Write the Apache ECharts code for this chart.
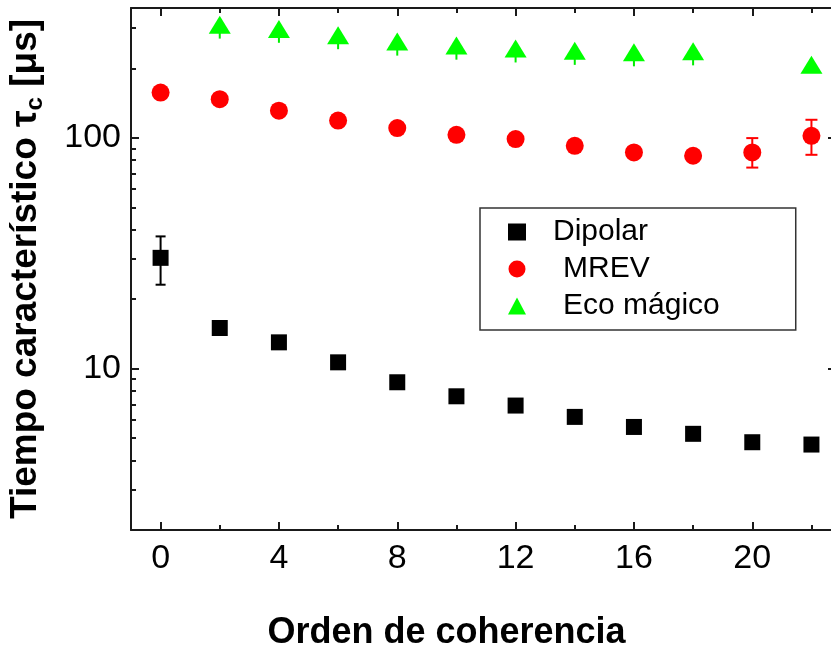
<!DOCTYPE html>
<html>
<head>
<meta charset="utf-8">
<script src="https://cdn.jsdelivr.net/npm/echarts@6/dist/echarts.min.js"></script>
<style>
  html, body { margin: 0; padding: 0; background: #fff; }
  #chart { width: 831px; height: 655px; }
</style>
</head>
<body>
<div id="chart"></div>
<script>
// Coherence orders (x axis)
const orders = [0, 2, 4, 6, 8, 10, 12, 14, 16, 18, 20, 22];

// Characteristic time tau_c [µs] for each sequence
const dipolar = [30.2, 15.0, 13.0, 10.65, 8.73, 7.59, 6.92, 6.18, 5.59, 5.22, 4.80, 4.69];
const dipolarErrLow  = [23.1, null, null, null, null, null, null, null, null, null, null, null];
const dipolarErrHigh = [37.4, null, null, null, null, null, null, null, null, null, null, null];

const mrev = [157, 147, 131, 118.8, 110.2, 103, 98.7, 92.3, 86.4, 83.6, 86.4, 102];
const mrevErrLow  = [null, null, null, null, null, null, null, null, null, null, 74.3, 84.4];
const mrevErrHigh = [null, null, null, null, null, null, null, null, null, null, 99.7, 119.7];

const ecoMagico = [null, 309, 296, 278, 261, 251, 243.5, 238.5, 234.5, 237, null, 207];
const ecoErrLow  = [null, 269, 258, 242, 227, 218, 212, 207, 204, 206, null, null];
const ecoErrHigh = [null, 309, 296, 278, 261, 251, 243.5, 238.5, 234.5, 237, null, null];

// Tick positions
const xMajorTicks = [0, 4, 8, 12, 16, 20];
const xMinorTicks = [2, 6, 10, 14, 18, 22];
const yMajorTicks = [10, 100];
const yMinorTicks = [2, 3, 4, 5, 6, 7, 8, 9, 20, 30, 40, 50, 60, 70, 80, 90, 200, 300];

const FONT = '"Liberation Sans", Arial, Helvetica, sans-serif';
const AXIS_COLOR = '#1a1a1a';

function pairs(xs, ys) {
  const out = [];
  xs.forEach((x, i) => { if (ys[i] != null) out.push([x, ys[i]]); });
  return out;
}

function errorSeries(color, low, high, capHalf) {
  const data = [];
  orders.forEach((x, i) => { if (low[i] != null) data.push([x, low[i], high[i]]); });
  return {
    type: 'custom',
    xAxisIndex: 0,
    yAxisIndex: 0,
    silent: true,
    z: 1,
    data: data,
    renderItem: function (params, api) {
      const x = api.value(0);
      const lo = api.coord([x, api.value(1)]);
      const hi = api.coord([x, api.value(2)]);
      const style = { stroke: color, lineWidth: 2 };
      const children = [
        { type: 'line', shape: { x1: lo[0], y1: lo[1], x2: hi[0], y2: hi[1] }, style: style }
      ];
      if (capHalf > 0) {
        children.push({ type: 'line', shape: { x1: lo[0] - capHalf, y1: lo[1], x2: lo[0] + capHalf, y2: lo[1] }, style: style });
        children.push({ type: 'line', shape: { x1: hi[0] - capHalf, y1: hi[1], x2: hi[0] + capHalf, y2: hi[1] }, style: style });
      }
      return { type: 'group', children: children };
    }
  };
}

const lineStyle = { color: AXIS_COLOR, width: 2 };
const xBase = { type: 'value', min: -1, max: 22.83, splitLine: { show: false }, gridIndex: 0 };
const yBase = { type: 'log', logBase: 10, min: 2, max: 365, splitLine: { show: false }, gridIndex: 0 };

function frameLine(show) {
  return { show: show, onZero: false, lineStyle: lineStyle };
}

const option = {
  backgroundColor: '#ffffff',
  animation: false,
  grid: { left: 131, top: 8, width: 705, height: 522, outerBoundsMode: 'none' },
  legend: {
    orient: 'vertical',
    left: 480,
    top: 208,
    padding: [9, 76, 9, 28],
    itemGap: 7,
    itemWidth: 18,
    itemHeight: 17,
    borderColor: '#333',
    borderWidth: 1.5,
    borderRadius: 0,
    textStyle: { fontSize: 30, fontFamily: FONT, color: '#000', lineHeight: 30 },
    data: [
      { name: 'Dipolar', textStyle: { padding: [0, 0, 0, 22] } },
      { name: 'MREV', textStyle: { padding: [0, 0, 0, 32] } },
      { name: 'Eco mágico', textStyle: { padding: [0, 0, 0, 32] } }
    ]
  },
  xAxis: [
    Object.assign({}, xBase, {
      position: 'bottom',
      axisLine: frameLine(true),
      axisTick: { show: true, inside: true, length: 8, customValues: xMajorTicks, lineStyle: lineStyle },
      axisLabel: { customValues: xMajorTicks, fontSize: 34, fontFamily: FONT, color: '#000', margin: 12 },
      name: 'Orden de coherencia',
      nameLocation: 'middle',
      nameGap: 85,
      nameTextStyle: { fontSize: 36, fontWeight: 'bold', fontFamily: FONT, color: '#000', padding: [0, 74, 0, 0] }
    }),
    Object.assign({}, xBase, {
      position: 'bottom',
      axisLine: frameLine(false),
      axisTick: { show: true, inside: true, length: 5, customValues: xMinorTicks, lineStyle: lineStyle },
      axisLabel: { show: false }
    }),
    Object.assign({}, xBase, {
      position: 'top',
      axisLine: frameLine(true),
      axisTick: { show: true, inside: true, length: 8, customValues: xMajorTicks, lineStyle: lineStyle },
      axisLabel: { show: false }
    }),
    Object.assign({}, xBase, {
      position: 'top',
      axisLine: frameLine(false),
      axisTick: { show: true, inside: true, length: 5, customValues: xMinorTicks, lineStyle: lineStyle },
      axisLabel: { show: false }
    })
  ],
  yAxis: [
    Object.assign({}, yBase, {
      position: 'left',
      axisLine: frameLine(true),
      axisTick: { show: true, inside: true, length: 8, customValues: yMajorTicks, lineStyle: lineStyle },
      axisLabel: { customValues: yMajorTicks, fontSize: 34, fontFamily: FONT, color: '#000', margin: 10 },
      name: 'Tiempo característico τ{sub|c} [μs]',
      nameLocation: 'middle',
      nameGap: 84,
      nameTextStyle: {
        fontSize: 37, fontWeight: 'bold', fontFamily: FONT, color: '#000', lineHeight: 42,
        rich: {
          sub: { fontSize: 24, fontWeight: 'bold', fontFamily: FONT, color: '#000', verticalAlign: 'bottom', lineHeight: 24 }
        }
      }
    }),
    Object.assign({}, yBase, {
      position: 'left',
      axisLine: frameLine(false),
      axisTick: { show: true, inside: true, length: 5, customValues: yMinorTicks, lineStyle: lineStyle },
      axisLabel: { show: false }
    }),
    Object.assign({}, yBase, {
      position: 'right',
      axisLine: frameLine(true),
      axisTick: { show: true, inside: true, length: 8, customValues: yMajorTicks, lineStyle: lineStyle },
      axisLabel: { show: false }
    }),
    Object.assign({}, yBase, {
      position: 'right',
      axisLine: frameLine(false),
      axisTick: { show: true, inside: true, length: 5, customValues: yMinorTicks, lineStyle: lineStyle },
      axisLabel: { show: false }
    })
  ],
  series: [
    errorSeries('#000000', dipolarErrLow, dipolarErrHigh, 5),
    errorSeries('#ff0000', mrevErrLow, mrevErrHigh, 6),
    errorSeries('#00ee00', ecoErrLow, ecoErrHigh, 0),
    {
      name: 'Dipolar', type: 'scatter', xAxisIndex: 0, yAxisIndex: 0, z: 3,
      symbol: 'rect', symbolSize: 16,
      itemStyle: { color: '#000000', opacity: 1 },
      data: pairs(orders, dipolar)
    },
    {
      name: 'MREV', type: 'scatter', xAxisIndex: 0, yAxisIndex: 0, z: 3,
      symbol: 'circle', symbolSize: 18,
      itemStyle: { color: '#ff0000', opacity: 1 },
      data: pairs(orders, mrev)
    },
    {
      name: 'Eco mágico', type: 'scatter', xAxisIndex: 0, yAxisIndex: 0, z: 3,
      symbol: 'triangle', symbolSize: [22, 18],
      itemStyle: { color: '#00ff00', opacity: 1 },
      data: pairs(orders, ecoMagico)
    }
  ]
};

const chart = echarts.init(document.getElementById('chart'), null, { renderer: 'canvas' });
chart.setOption(option);
</script>
</body>
</html>
